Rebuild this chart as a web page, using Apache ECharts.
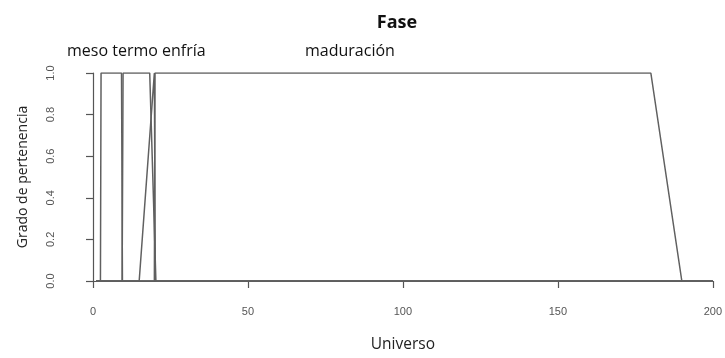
<!DOCTYPE html>
<html>
<head>
<meta charset="utf-8">
<script src="https://cdn.jsdelivr.net/npm/echarts@6/dist/echarts.min.js"></script>
<style>html,body{margin:0;padding:0;background:#fff;}#c{width:725px;height:358px;}</style>
</head>
<body>
<div id="c"></div>
<script>
var xTicks = [0, 50, 100, 150, 200];
var yTicks = [0.0, 0.2, 0.4, 0.6, 0.8, 1.0];
var setNames = ["meso", "termo", "enfría", "maduración"];

var meso_x = [1, 2.4, 2.6, 9.2, 9.5, 200];
var meso_y = [0, 0, 1, 1, 0, 0];
var termo_x = [1, 9.4, 9.7, 18.3, 20.3, 200];
var termo_y = [0, 0, 1, 1, 0, 0];
var enfria_x = [1, 14.9, 19.8, 20, 20.1, 200];
var enfria_y = [0, 0, 1, 1, 0, 0];
var madur_x = [1, 19.8, 20, 180, 190, 200];
var madur_y = [0, 0, 1, 1, 0, 0];

function pairs(xs, ys) { return xs.map(function (x, i) { return [x, ys[i]]; }); }

var lineColor = '#606060';
function mk(name, xs, ys) {
  return {
    name: name, type: 'line', data: pairs(xs, ys), symbol: 'none',
    lineStyle: { color: lineColor, width: 1.5 }, animation: false
  };
}

var chart = echarts.init(document.getElementById('c'), null, { renderer: 'canvas' });
chart.setOption({
  backgroundColor: '#fff',
  animation: false,
  grid: { left: 93, right: 10, top: 73, bottom: 77 },
  xAxis: {
    type: 'value', min: xTicks[0], max: xTicks[xTicks.length - 1], interval: 50,
    offset: 9,
    name: 'Universo', nameLocation: 'middle', nameGap: 47,
    nameTextStyle: { fontFamily: 'Open Sans', fontSize: 15.5, color: '#222' },
    axisLine: { show: true, lineStyle: { color: '#555', width: 1.2 } },
    axisTick: { show: true, length: 7, lineStyle: { color: '#555', width: 1.2 } },
    axisLabel: { margin: 16, fontFamily: 'Liberation Sans', fontSize: 11, color: '#555' },
    splitLine: { show: false }
  },
  yAxis: {
    type: 'value', min: yTicks[0], max: yTicks[yTicks.length - 1], interval: 0.2,
    offset: 21,
    name: 'Grado de pertenencia', nameLocation: 'middle', nameGap: 42,
    nameTextStyle: { fontFamily: 'Open Sans', fontSize: 14, color: '#222' },
    axisLine: { show: true, lineStyle: { color: '#555', width: 1.2 } },
    axisTick: { show: true, length: 7, lineStyle: { color: '#555', width: 1.2 } },
    axisLabel: { rotate: 90, margin: 16, fontFamily: 'Liberation Sans', fontSize: 11, color: '#555',
      formatter: function (v) { return v.toFixed(1); } },
    splitLine: { show: false }
  },
  title: {
    text: 'Fase', left: 392, top: 9, textAlign: 'center',
    textStyle: { fontFamily: 'Open Sans', fontWeight: 'bold', fontSize: 18, color: '#111' }
  },
  graphic: [
    { type: 'text', left: 67, top: 43, style: { text: setNames[0] + ' ' + setNames[1] + ' ' + setNames[2], font: '16px "Open Sans"', fill: '#111' } },
    { type: 'text', left: 305, top: 43, style: { text: setNames[3], font: '16px "Open Sans"', fill: '#111' } }
  ],
  series: [
    mk(setNames[0], meso_x, meso_y),
    mk(setNames[1], termo_x, termo_y),
    mk(setNames[2], enfria_x, enfria_y),
    mk(setNames[3], madur_x, madur_y)
  ]
});
</script>
</body>
</html>
